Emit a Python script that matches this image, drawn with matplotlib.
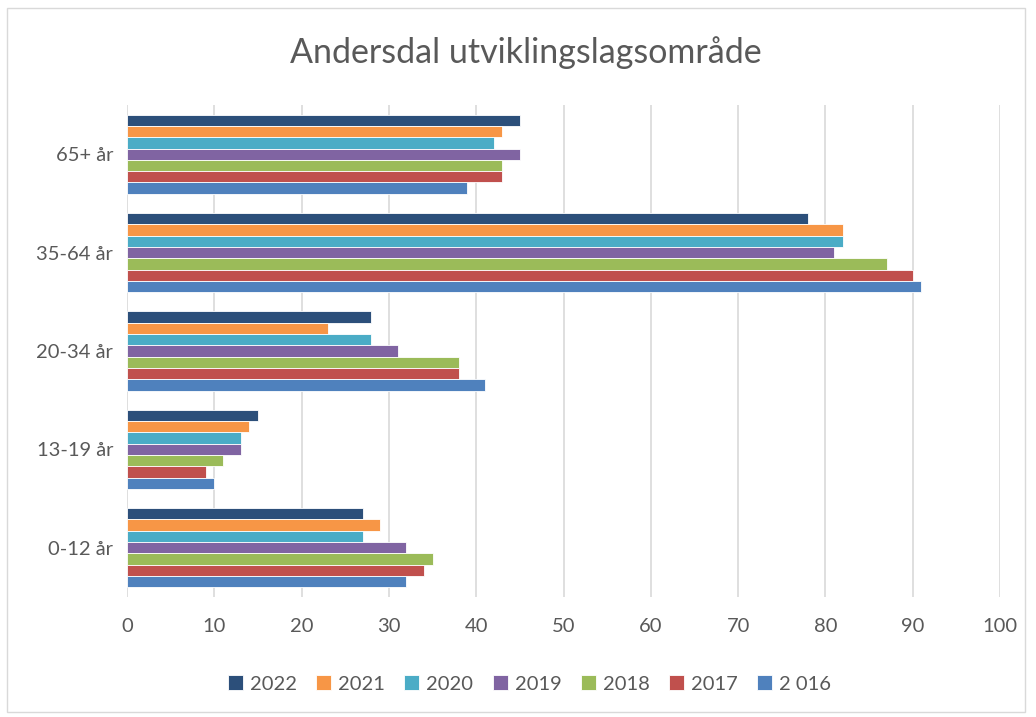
import numpy as np
import matplotlib
matplotlib.use('Agg')
import matplotlib.pyplot as plt
from matplotlib.patches import Rectangle

plt.rcParams['font.family'] = ['Lato', 'DejaVu Sans']

# Data
categories = ['0-12 år', '13-19 år', '20-34 år', '35-64 år', '65+ år']
years = ['2022', '2021', '2020', '2019', '2018', '2017', '2 016']
colours = ['#2c4f7a', '#f79646', '#4bacc6', '#8064a2', '#9bbb59', '#c0504d', '#4f81bd']

v2022 = [27, 15, 28, 78, 45]
v2021 = [29, 14, 23, 82, 43]
v2020 = [27, 13, 28, 82, 42]
v2019 = [32, 13, 31, 81, 45]
v2018 = [35, 11, 38, 87, 43]
v2017 = [34, 9, 38, 90, 43]
v2016 = [32, 10, 41, 91, 39]
series = [v2022, v2021, v2020, v2019, v2018, v2017, v2016]

fig = plt.figure(figsize=(10.36, 7.17), dpi=100)
ax = fig.add_axes([0.1226, 0.1674, 0.8427, 0.6862])

# chart border like the office export
fig.patches.append(Rectangle((7 / 1036, 5 / 717), 1018 / 1036, 704 / 717,
                             transform=fig.transFigure, fill=False,
                             edgecolor='#d9d9d9', linewidth=1.0))

y = np.arange(len(categories))
barH = 0.115
for i, (vals, lab, col) in enumerate(zip(series, years, colours)):
    offset = (3 - i) * barH
    ax.barh(y + offset, vals, height=barH, color=col, label=lab,
            edgecolor='white', linewidth=0.6)

ax.set_xlim(0, 100)
ax.set_ylim(-0.5, 4.5)
ax.set_xticks(np.arange(0, 101, 10))
ax.set_yticks(y)
ax.set_yticklabels(categories)
ax.tick_params(axis='both', length=0, labelsize=14.5, colors='#595959')
ax.tick_params(axis='x', pad=15)
ax.tick_params(axis='y', pad=10)
ax.xaxis.grid(True, color='#d9d9d9', linewidth=1.2)
ax.set_axisbelow(True)
for s in ax.spines.values():
    s.set_visible(False)

fig.text(0.508, 0.927, 'Andersdal utviklingslagsområde', ha='center', va='center',
         fontsize=24.5, color='#595959')

fig.legend(loc='center', bbox_to_anchor=(0.511, 0.046), ncol=7, frameon=False,
           fontsize=14.5, handlelength=0.75, handleheight=0.75, handletextpad=0.35,
           columnspacing=0.95, labelcolor='#595959')

fig.savefig('out.png', dpi=100)
